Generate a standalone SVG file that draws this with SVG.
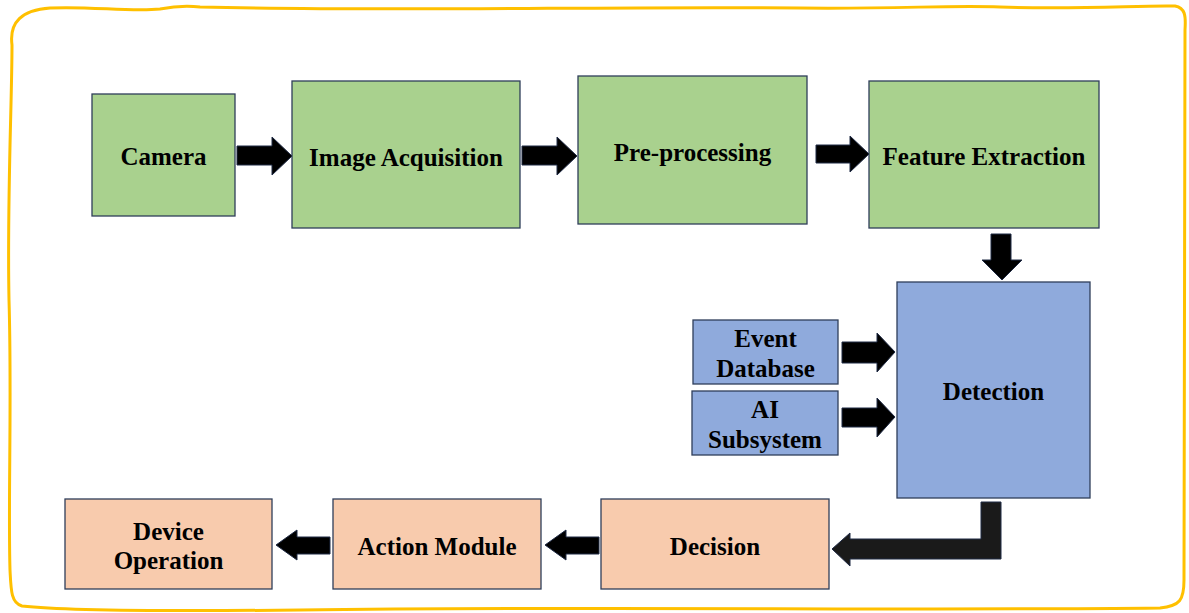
<svg xmlns="http://www.w3.org/2000/svg" width="1189" height="613" viewBox="0 0 1189 613">
<style>
.box{stroke:#2F3E5A;stroke-width:1.3}
.g{fill:#A9D18E}.b{fill:#8FAADC}.p{fill:#F8CBAD}
.t{font-family:"Liberation Serif","Times New Roman",serif;font-weight:bold;font-size:25px;fill:#000;text-anchor:middle}
.ar{fill:#000;stroke:#1F2A44;stroke-width:1}
</style>
<rect width="1189" height="613" fill="#fff"/>
<path d="M 12,45 C 9,22 22,10 50,8 C 90,6 130,12 160,9 C 175,6 185,5 200,7 C 400,12 600,6 800,8 C 900,9 950,5 1000,7 C 1080,10 1140,5 1175,6 C 1185,8 1186,15 1185,30 L 1184,580 C 1184,600 1180,606 1160,608 C 900,611 600,606 300,610 C 100,612 40,608 22,606 C 11,603 11,590 10,570 C 8,500 12,400 9,300 C 7,200 12,100 12,45 Z" fill="none" stroke="#FFC000" stroke-width="3"/>
<g id="camera"><rect class="box g" x="92" y="94" width="143" height="122"/><text class="t" x="163.5" y="165">Camera</text></g>
<g id="image-acquisition"><rect class="box g" x="292" y="81" width="228" height="147"/><text class="t" x="406" y="166">Image Acquisition</text></g>
<g id="pre-processing"><rect class="box g" x="578" y="76" width="229" height="148"/><text class="t" x="692.5" y="161">Pre-processing</text></g>
<g id="feature-extraction"><rect class="box g" x="869" y="81" width="230" height="147"/><text class="t" x="984" y="165">Feature Extraction</text></g>
<g id="detection"><rect class="box b" x="897" y="282" width="193" height="216"/><text class="t" x="993.5" y="400">Detection</text></g>
<g id="event-database"><rect class="box b" x="693" y="320" width="145" height="64"/><text class="t" x="765.5" y="347">Event</text><text class="t" x="765.5" y="377">Database</text></g>
<g id="ai-subsystem"><rect class="box b" x="692" y="391" width="146" height="64"/><text class="t" x="765" y="418">AI</text><text class="t" x="765" y="448">Subsystem</text></g>
<g id="decision"><rect class="box p" x="601" y="499" width="228" height="90"/><text class="t" x="715" y="555">Decision</text></g>
<g id="action-module"><rect class="box p" x="333" y="499" width="208" height="90"/><text class="t" x="437" y="555">Action Module</text></g>
<g id="device-operation"><rect class="box p" x="65" y="499" width="207" height="90"/><text class="t" x="168.5" y="540">Device</text><text class="t" x="168.5" y="569">Operation</text></g>
<g id="connectors">
<polygon class="ar" points="237,146 272,146 272,137 292,156 272,175 272,165 237,165"/>
<polygon class="ar" points="522,146 557,146 557,137 577,156 557,175 557,165 522,165"/>
<polygon class="ar" points="816,145 850,145 850,136 869,154 850,172 850,163 816,163"/>
<polygon class="ar" points="991,234 1011,234 1011,260 1022,260 1002,280 982,260 991,260"/>
<polygon class="ar" points="842,342 877,342 877,333 895,352 877,372 877,363 842,363"/>
<polygon class="ar" points="842,408 877,408 877,398 895,417 877,437 877,427 842,427"/>
<polygon class="ar" style="fill:#1a1a1a" points="981,502 1001,502 1001,559 850,559 850,566 832,549 850,533 850,539 981,539"/>
<polygon class="ar" points="599,537 566,537 566,530 545,545 566,560 566,554 599,554"/>
<polygon class="ar" points="330,537 297,537 297,530 276,545 297,560 297,554 330,554"/>
</g>
</svg>
